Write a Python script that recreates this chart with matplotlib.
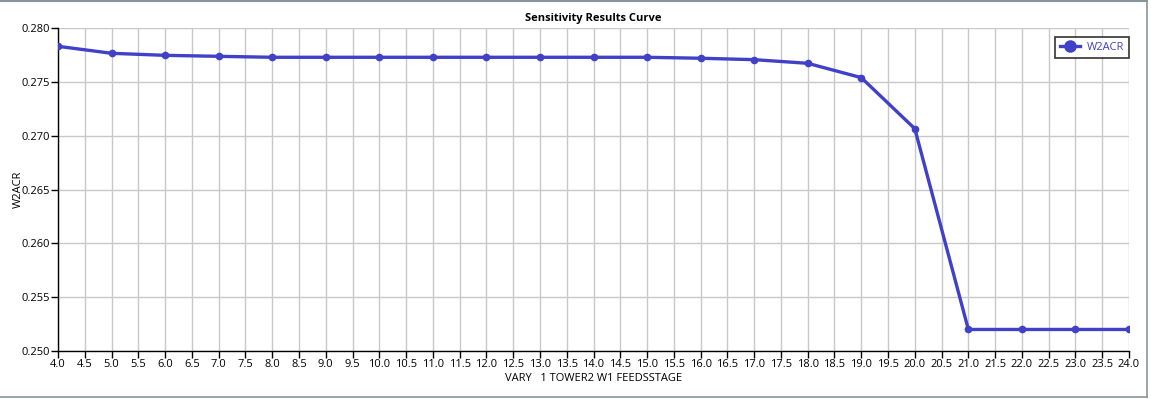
import matplotlib
matplotlib.use("Agg")
import matplotlib.pyplot as plt
from matplotlib.lines import Line2D

plt.rcParams['font.family'] = ['Open Sans', 'DejaVu Sans']

x_values = [4, 5, 6, 7, 8, 9, 10, 11, 12, 13, 14, 15, 16, 17, 18, 19, 20, 21, 22, 23, 24]
w2acr = [0.2783, 0.27765, 0.27746, 0.27737, 0.27728, 0.27728, 0.27728, 0.27728, 0.27728,
         0.27728, 0.27728, 0.27728, 0.27719, 0.27706, 0.27672, 0.27539, 0.27065,
         0.2520, 0.2520, 0.2520, 0.2520]
x_ticks = [4.0 + 0.5 * i for i in range(41)]
y_ticks = [0.250, 0.255, 0.260, 0.265, 0.270, 0.275, 0.280]

line_color = '#4040C8'

fig = plt.figure(figsize=(11.51, 3.99), dpi=100)
ax = fig.add_axes([58/1151, 48/399, (1129-58)/1151, (351-28)/399])

ax.plot(x_values, w2acr, color=line_color, lw=2.4, marker='o', ms=4.5, zorder=3)

ax.set_xlim(4, 24)
ax.set_ylim(0.250, 0.280)
ax.set_xticks(x_ticks)
ax.set_xticklabels([f"{t:.1f}" for t in x_ticks])
ax.set_yticks(y_ticks)
ax.set_yticklabels([f"{t:.3f}" for t in y_ticks])
ax.grid(True, color='#c8c8c8', lw=1.0)
ax.set_axisbelow(True)
for s in ['top', 'right']:
    ax.spines[s].set_visible(False)
for s in ['left', 'bottom']:
    ax.spines[s].set_color('black')
    ax.spines[s].set_linewidth(1.0)
ax.tick_params(axis='both', direction='out', length=5, width=1, labelsize=8, pad=1, colors='black')

ax.set_title("Sensitivity Results Curve", fontsize=8, fontweight='bold', pad=5)
ax.set_xlabel("VARY   1 TOWER2 W1 FEEDSSTAGE", fontsize=8, labelpad=2)
ax.set_ylabel("W2ACR", fontsize=8)
ax.yaxis.set_label_coords(-34/1071, 0.5)

handle = Line2D([], [], color=line_color, lw=2.4, marker='o', ms=8)
leg = ax.legend([handle], ["W2ACR"], loc='upper right', bbox_to_anchor=(1.0, 0.971),
                frameon=True, fancybox=False, fontsize=8, handlelength=1.8,
                borderpad=0.45, handletextpad=0.6, borderaxespad=0)
leg.get_frame().set_edgecolor('black')
leg.get_frame().set_linewidth(1.2)
for t in leg.get_texts():
    t.set_color(line_color)

# figure border
fig.add_artist(Line2D([0, 1147/1151], [1-0.5/399, 1-0.5/399], transform=fig.transFigure, color='#8a949c', lw=1.5))
fig.add_artist(Line2D([1147/1151, 1147/1151], [2/399, 1], transform=fig.transFigure, color='#8a949c', lw=1.2))
fig.add_artist(Line2D([0, 1147/1151], [2/399, 2/399], transform=fig.transFigure, color='#8a949c', lw=1.2))

fig.savefig("out.png", dpi=100)
